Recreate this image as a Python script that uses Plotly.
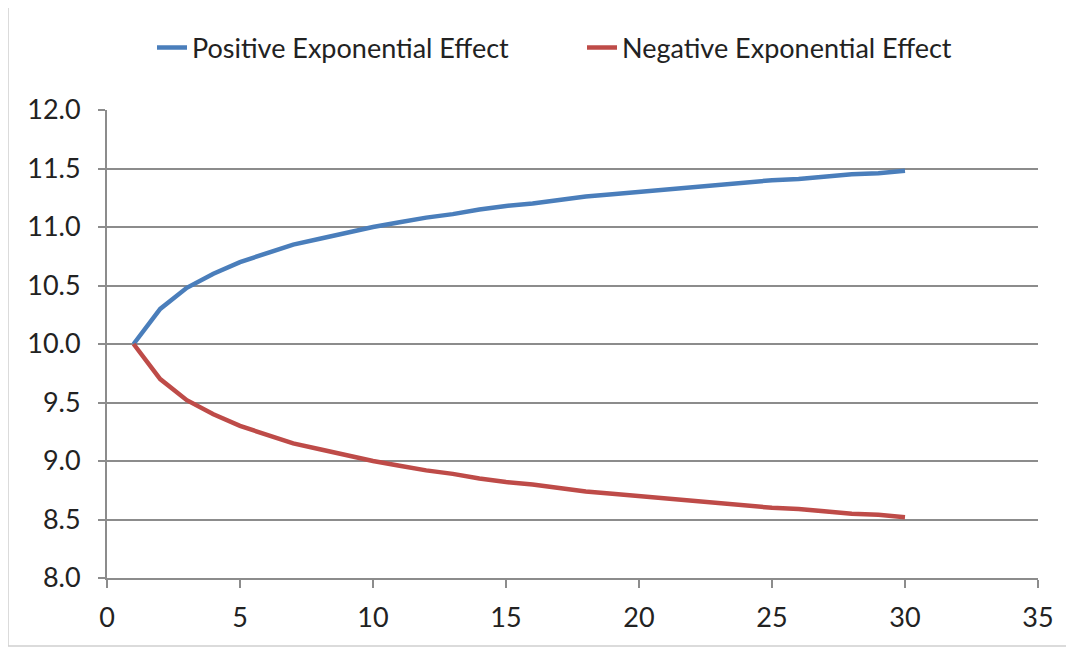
import plotly.graph_objects as go

x_vals = list(range(1, 31))
positive = [10.00, 10.30, 10.48, 10.60, 10.70, 10.78, 10.85, 10.90, 10.95, 11.00,
            11.04, 11.08, 11.11, 11.15, 11.18, 11.20, 11.23, 11.26, 11.28, 11.30,
            11.32, 11.34, 11.36, 11.38, 11.40, 11.41, 11.43, 11.45, 11.46, 11.48]
negative = [10.00, 9.70, 9.52, 9.40, 9.30, 9.22, 9.15, 9.10, 9.05, 9.00,
            8.96, 8.92, 8.89, 8.85, 8.82, 8.80, 8.77, 8.74, 8.72, 8.70,
            8.68, 8.66, 8.64, 8.62, 8.60, 8.59, 8.57, 8.55, 8.54, 8.52]
series_names = ["Positive Exponential Effect", "Negative Exponential Effect"]
x_ticks = [0, 5, 10, 15, 20, 25, 30, 35]
y_ticks = [8.0, 8.5, 9.0, 9.5, 10.0, 10.5, 11.0, 11.5, 12.0]

FONT = "Lato, 'Open Sans', sans-serif"
GRID = "#8C8C8C"
TXT = "#222222"
FS = 27

fig = go.Figure()
fig.add_trace(go.Scatter(x=x_vals, y=positive, mode="lines", name=series_names[0],
                         line=dict(color="#4A7EBB", width=4.5)))
fig.add_trace(go.Scatter(x=x_vals, y=negative, mode="lines", name=series_names[1],
                         line=dict(color="#BE4B48", width=4.5)))

OFF = 8  # page body margin
W, H = 1074 - OFF, 650 - OFF
L, T = 107 - OFF, 110 - OFF
R = W - (1038 - OFF)
B = H - (578 - OFF)
pw, ph = W - L - R, H - T - B

def px_x(p):
    return (p - OFF - L) / pw

def px_y(p):
    return ((H - B) - (p - OFF)) / ph

fig.update_layout(
    width=W, height=H,
    margin=dict(l=L, r=R, t=T, b=B, autoexpand=False),
    paper_bgcolor="white", plot_bgcolor="white",
    font=dict(family=FONT, size=FS, color=TXT),
    legend=dict(orientation="h", x=px_x(152), xanchor="left",
                y=px_y(48), yanchor="middle",
                font=dict(family=FONT, size=FS, color=TXT),
                entrywidth=385, entrywidthmode="pixels",
                itemwidth=30, traceorder="normal"),
    showlegend=True,
)
fig.update_xaxes(range=[0, 35], tickvals=x_ticks, ticktext=[str(v) for v in x_ticks],
                 showgrid=False, zeroline=False, showline=True, linecolor=GRID, linewidth=2,
                 ticks="outside", ticklen=8, tickcolor=GRID, tickwidth=2,
                 ticklabelstandoff=7,
                 tickfont=dict(family=FONT, size=FS, color=TXT))
fig.update_yaxes(range=[8, 12], tickvals=y_ticks, ticktext=[f"{v:.1f}" for v in y_ticks],
                 showgrid=True, gridcolor=GRID, gridwidth=2, zeroline=False,
                 showline=True, linecolor=GRID, linewidth=2,
                 ticks="outside", ticklen=7, tickcolor=GRID, tickwidth=2,
                 ticklabelstandoff=12,
                 tickfont=dict(family=FONT, size=FS, color=TXT))

fig.add_shape(type="rect", xref="paper", yref="paper",
              x0=px_x(8), x1=px_x(1068),
              y0=px_y(646), y1=px_y(5),
              line=dict(color="#D0D0D0", width=1.5), fillcolor="rgba(0,0,0,0)", layer="below")

fig.write_html("out.html")
